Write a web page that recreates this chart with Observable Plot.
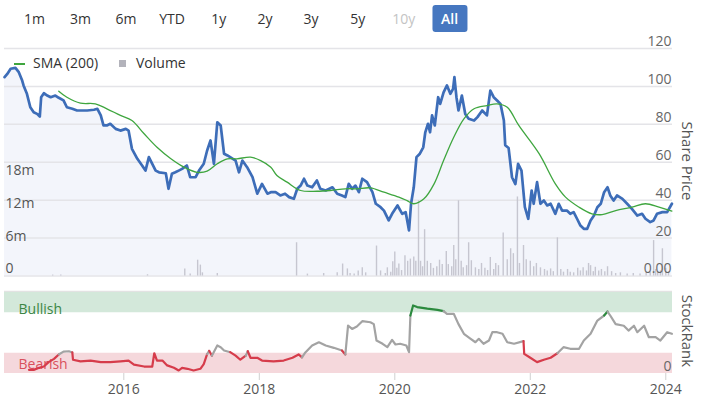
<!DOCTYPE html>
<html><head><meta charset="utf-8">
<script src="https://cdn.jsdelivr.net/npm/d3@7"></script>
<script src="https://cdn.jsdelivr.net/npm/@observablehq/plot@0.6"></script>
<style>
body{margin:0;background:#fff;font-family:"Open Sans",sans-serif;}
#wrap{position:relative;width:711px;height:397px;overflow:hidden;background:#fff}
.btn{position:absolute;top:5px;height:27px;line-height:27px;font-size:14px;color:#333;transform:translateX(-50%);white-space:nowrap;z-index:2}
.btn.active{background:#4677c0;color:#fff;border-radius:3px;padding:0 9px;font-weight:600}
.btn.off{color:#c4c4c4}
.abs{position:absolute}
.leg{position:absolute;font-size:14px;color:#333;line-height:20px;top:53px;white-space:nowrap}
.rot{position:absolute;font-size:15px;color:#555;white-space:nowrap;transform:translate(-50%,-50%) rotate(90deg)}
#main{position:absolute;left:0;top:30px}
#rank{position:absolute;left:0;top:280px}
</style></head>
<body><div id="wrap">
<div id="main"></div>
<div id="rank"></div>
<div id="btns"></div>
<div class="abs" style="left:14px;top:63px;width:11px;height:1.5px;background:#3fa63f"></div>
<div class="leg" style="left:33px">SMA (200)</div>
<div class="abs" style="left:119px;top:60px;width:7px;height:7px;background:#b3b3bb"></div>
<div class="leg" style="left:136px">Volume</div>
<div class="rot" style="left:688px;top:161px">Share Price</div>
<div class="rot" style="left:688px;top:331px">StockRank</div>
</div>
<script>
// ---- range buttons ----
const rangeLabels = ["1m","3m","6m","YTD","1y","2y","3y","5y","10y","All"];
const rangeCenters = [34.5,80.5,126,172,218.7,265,311,357.7,403.7,449.5];
const rangeState = ["","","","","","","","","off","active"];

// ---- share price (decimal year, price) ----
const priceYears = [2014.24,2014.28,2014.33,2014.40,2014.45,2014.50,2014.52,2014.57,2014.62,2014.67,2014.72,2014.76,2014.78,2014.82,2014.87,2014.92,2014.99,2015.04,2015.11,2015.16,2015.24,2015.31,2015.46,2015.56,2015.61,2015.66,2015.70,2015.75,2015.80,2015.88,2015.95,2016.03,2016.07,2016.12,2016.20,2016.27,2016.32,2016.37,2016.42,2016.47,2016.52,2016.62,2016.66,2016.71,2016.76,2016.81,2016.86,2016.93,2016.98,2017.06,2017.11,2017.18,2017.23,2017.28,2017.33,2017.38,2017.43,2017.48,2017.53,2017.57,2017.65,2017.70,2017.75,2017.82,2017.90,2017.97,2018.04,2018.12,2018.17,2018.24,2018.31,2018.38,2018.44,2018.51,2018.56,2018.61,2018.66,2018.71,2018.78,2018.85,2018.90,2018.98,2019.08,2019.15,2019.22,2019.27,2019.32,2019.37,2019.42,2019.47,2019.52,2019.59,2019.67,2019.72,2019.79,2019.84,2019.91,2019.96,2020.04,2020.11,2020.16,2020.21,2020.24,2020.28,2020.32,2020.37,2020.42,2020.45,2020.49,2020.52,2020.55,2020.59,2020.64,2020.67,2020.72,2020.77,2020.82,2020.86,2020.88,2020.91,2020.94,2020.99,2021.04,2021.09,2021.17,2021.22,2021.29,2021.36,2021.41,2021.46,2021.51,2021.56,2021.61,2021.63,2021.68,2021.73,2021.78,2021.82,2021.87,2021.92,2021.97,2022.02,2022.05,2022.10,2022.15,2022.20,2022.25,2022.30,2022.37,2022.42,2022.47,2022.54,2022.59,2022.64,2022.69,2022.74,2022.79,2022.84,2022.89,2022.94,2022.99,2023.04,2023.09,2023.14,2023.18,2023.23,2023.28,2023.36,2023.43,2023.50,2023.58,2023.65,2023.70,2023.77,2023.82,2023.87,2023.95,2024.02,2024.09];
const priceValues = [104.9,106.6,109.3,109.8,107.5,103.1,100.5,96.1,89,86.4,85.5,84.1,94.3,96.4,95.2,94.3,95.2,94,92.6,89,88.2,87.3,87.3,87.7,88.2,84.7,79.4,79.4,80.3,77.6,76.7,77.6,76.7,67.1,61.8,58.3,55.6,62.7,59.2,55.6,54.7,54.2,46,53.9,54.7,55.6,56.5,58.3,52.1,52.1,55.6,59.2,66.2,71.5,59.2,81.1,79.4,64.5,63.6,62.7,60.9,54.7,60.9,57.4,52.1,43.4,48.6,43.4,44.2,44.2,42.5,43.4,41.6,40.7,46,47.7,51.3,47.7,46.8,50.4,46,45.1,46.8,43.4,42.5,41.6,48.6,46,47.7,44.2,51.3,49.5,44.2,38.1,36.3,34.5,29.3,32.8,37.2,32.8,33.7,24,38.1,46.8,62.7,64.5,67.9,75.8,80.3,75.8,84.7,79.4,94.3,90.8,96.9,100.5,96.1,98.7,104.9,94.3,87.3,95.2,85.5,82.9,82,83.8,87.3,84.7,97.8,94.3,92.6,90.8,82,69,67.5,52.1,48.5,59.2,55.6,36.3,30.2,45.1,38.1,49.5,38.1,39.8,37.2,38.1,32.8,38.1,34.5,34.5,32.8,33.7,30.2,26.6,24.9,24.9,29.3,31.9,36.3,38.1,44.2,46.8,42.5,39.8,42.5,40.7,38.1,35.4,31.9,32.8,30.2,28.4,29.3,32.8,33.7,33.7,38.1];

// ---- SMA (200) ----
const smaYears = [2015.04,2015.16,2015.36,2015.58,2015.75,2015.95,2016.12,2016.30,2016.49,2016.69,2016.89,2017.08,2017.23,2017.38,2017.53,2017.67,2017.87,2018.02,2018.17,2018.26,2018.41,2018.61,2018.85,2019.05,2019.27,2019.44,2019.64,2019.84,2020.06,2020.18,2020.28,2020.43,2020.58,2020.72,2020.87,2021.02,2021.17,2021.36,2021.51,2021.66,2021.83,2022.13,2022.37,2022.52,2022.72,2022.91,2023.06,2023.26,2023.50,2023.70,2023.90,2024.09];
const smaValues = [97.5,94.3,91.2,90.8,88.2,84.7,82,75,67.9,62,57.4,54.7,55.3,59.2,61.8,61.8,62.7,60.9,57.4,53,49.5,45.1,44.7,45.1,46,46,46.5,44.2,41.6,39.8,38.1,40.7,48.6,60.9,73.2,82.9,88.2,89.9,90.8,89,79.4,64.5,48.6,41.6,36.3,32.8,32.4,34.5,36.3,38.1,36.3,34.2];

// ---- volume (millions) ----
const volYears = [2014.95,2015.07,2016.35,2016.90,2016.98,2017.09,2017.13,2017.16,2017.38,2018.55,2018.71,2018.95,2019.15,2019.23,2019.30,2019.34,2019.40,2019.46,2019.52,2019.57,2019.73,2019.79,2019.86,2019.89,2019.94,2019.97,2020.00,2020.03,2020.06,2020.10,2020.15,2020.19,2020.23,2020.28,2020.31,2020.35,2020.38,2020.41,2020.44,2020.48,2020.53,2020.57,2020.62,2020.66,2020.70,2020.76,2020.79,2020.84,2020.87,2020.90,2020.94,2020.98,2021.01,2021.06,2021.09,2021.13,2021.19,2021.24,2021.28,2021.33,2021.37,2021.41,2021.46,2021.49,2021.53,2021.60,2021.66,2021.71,2021.75,2021.81,2021.84,2021.90,2021.94,2022.00,2022.05,2022.09,2022.15,2022.21,2022.25,2022.30,2022.34,2022.40,2022.45,2022.49,2022.55,2022.59,2022.64,2022.70,2022.74,2022.78,2022.83,2022.86,2022.89,2022.93,2022.96,2023.01,2023.05,2023.10,2023.14,2023.20,2023.26,2023.33,2023.43,2023.52,2023.62,2023.71,2023.77,2023.82,2023.85,2023.88,2023.92,2023.95,2024.00,2024.04];
const volValues = [0.17,0.17,0.23,1.3,0.35,2.9,2.0,0.58,0.46,6.1,0.35,0.46,0.58,2.2,1.3,0.46,0.35,0.93,1.5,0.58,5.5,0.93,0.46,1.5,0.7,2.6,4.4,1.4,2.2,1.0,3.7,2.7,3.1,3.5,2.7,13.8,2.7,1.7,8.5,2.7,2.3,1.4,1.7,2.9,2.1,4.5,2.1,1.7,5.6,3.0,13.8,2.7,1.5,1.9,6.1,2.8,1.5,1.2,2.3,1.4,1.0,3.4,1.2,2.3,1.9,7.9,3.0,5.0,4.1,14.5,2.3,5.6,3.0,2.7,1.7,2.3,1.5,1.2,0.93,1.3,0.8,7.0,1.2,0.7,1.2,0.7,0.58,1.4,0.93,1.5,0.93,2.3,1.9,0.8,1.6,0.93,1.2,0.8,1.7,0.8,0.46,0.58,0.35,0.46,0.35,0.58,0.7,6.5,1.2,0.7,0.93,5.0,1.4,0.7];

// ---- StockRank ----
const rankYears = [2014.60,2014.67,2014.75,2014.82,2014.89,2014.97,2015.04,2015.11,2015.19,2015.24,2015.25,2015.36,2015.51,2015.66,2015.80,2015.95,2016.07,2016.15,2016.30,2016.42,2016.45,2016.49,2016.57,2016.64,2016.74,2016.81,2016.86,2016.94,2017.03,2017.13,2017.18,2017.23,2017.26,2017.30,2017.38,2017.43,2017.48,2017.57,2017.65,2017.72,2017.80,2017.83,2017.87,2017.97,2018.04,2018.21,2018.36,2018.49,2018.58,2018.63,2018.68,2018.78,2018.88,2018.98,2019.10,2019.22,2019.27,2019.31,2019.37,2019.44,2019.52,2019.64,2019.69,2019.73,2019.82,2019.89,2019.96,2020.01,2020.08,2020.17,2020.21,2020.23,2020.27,2020.33,2020.48,2020.63,2020.72,2020.77,2020.87,2020.94,2021.02,2021.12,2021.19,2021.24,2021.31,2021.39,2021.44,2021.51,2021.59,2021.66,2021.76,2021.90,2021.91,2022.00,2022.10,2022.20,2022.30,2022.40,2022.49,2022.59,2022.72,2022.79,2022.89,2022.99,2023.09,2023.14,2023.18,2023.26,2023.38,2023.45,2023.53,2023.58,2023.68,2023.75,2023.85,2023.92,2024.02,2024.09];
const rankValues = [4.5,4.5,7,8.6,14,18,23.5,27,27.5,26,17,15,16,14,14,15,16,11,8.6,8.6,25,16,16,10,7,3.7,7,5.8,3.7,5.8,11.5,24,28,22,34.6,32.5,28.4,26.3,22,17,22,27.5,19.4,19.4,16,15,16,19.4,23.5,20,26,34.6,38.6,34.6,31.7,28.4,23.5,59,55,58,64.6,63.3,61,40.7,36.7,32.5,41.6,35.8,36.7,34.6,26.3,71.6,84,82,80,78.6,77,73.7,73.7,61,49,42.8,38.6,42.8,36.7,40.7,51,51,49,38.6,36.7,40,24.3,19.4,14,17,19.4,25,32.5,30.5,30.5,40.7,49,65.4,71.6,76.5,71.6,61,59,53,59,51,59,44.8,44.8,40.7,51,49];

const priceTicks = [0,20,40,60,80,100,120];
const volTicks = [0,6,12,18];          // millions
const yearTicks = [2016,2018,2020,2022,2024];
const xDomain = [2014.239, 2024.099];
const VOL_TO_PRICE = 2.875;            // 1m shares drawn as 2.875 price units (volume axis scale)
const BULL = 75, BEAR = 25;

// buttons
const btns = document.getElementById("btns");
rangeLabels.forEach((t,i)=>{
  const s = document.createElement("div");
  s.className = "btn " + rangeState[i];
  s.style.left = rangeCenters[i] + "px";
  s.textContent = t;
  btns.appendChild(s);
});

const price = priceYears.map((x,i)=>({x, y: priceValues[i]}));
const sma = smaYears.map((x,i)=>({x, y: smaValues[i]}));
const vol = volYears.map((x,i)=>({x, v: volValues[i]}));

const font = {fontFamily:"Open Sans, sans-serif", fontSize:"14px", background:"transparent", overflow:"hidden"};

const main = Plot.plot({
  width: 711, height: 250,
  marginTop: 18, marginBottom: 4.5, marginLeft: 4, marginRight: 39,
  style: font,
  x: {domain: xDomain, axis: null},
  y: {domain: [0,120], axis: null},
  marks: [
    Plot.areaY(price, {x:"x", y:"y", fill:"#f3f5fb"}),
    Plot.ruleY(priceTicks, {stroke:"#e4e4e8", strokeWidth:1.5}),
    Plot.ruleX(vol, {x:"x", y1:0, y2: d => d.v*VOL_TO_PRICE, stroke:"#c6c6d0", strokeWidth:1.4}),
    Plot.line(price, {x:"x", y:"y", stroke:"#3d6db8", strokeWidth:2.7, strokeLinejoin:"round"}),
    Plot.line(sma, {x:"x", y:"y", stroke:"#3fa63f", strokeWidth:1.3, curve:"catmull-rom"}),
    Plot.text(priceTicks, {y: d=>d, text: d => d===0 ? "0.00" : String(d), frameAnchor:"right", textAnchor:"end", dx:-1, dy:-7, fill:"#666", fontSize:14}),
    Plot.text(volTicks, {y: d=>d*VOL_TO_PRICE, text: d => d===0 ? "0" : d+"m", frameAnchor:"left", textAnchor:"start", dx:1, dy:-7, fill:"#555", fontSize:14})
  ]
});
document.getElementById("main").appendChild(main);

// StockRank segments coloured by zone
const cls = v => v >= BULL ? "bull" : v <= BEAR ? "bear" : "mid";
const rankColor = {bull:"#2b8a3e", bear:"#d63c4b", mid:"#a3a3a3"};
const segs = []; let sid = 0;
rankYears.forEach((x,i)=>{
  const c = cls(rankValues[i]);
  if (i>0 && c !== cls(rankValues[i-1])) { sid++; segs.push({x: rankYears[i-1], y: rankValues[i-1], id: sid, c}); }
  segs.push({x, y: rankValues[i], id: sid, c});
});

const rank = Plot.plot({
  width: 711, height: 117,
  marginTop: 12, marginBottom: 24, marginLeft: 4, marginRight: 39,
  style: font,
  x: {domain: xDomain, label: null},
  y: {domain: [0,100], axis: null},
  color: {type: "identity"},
  marks: [
    Plot.ruleY([100], {stroke:"#e2e2e2", strokeWidth:1.5, dy:-1}),
    Plot.rect([BULL], {x1: xDomain[0], x2: xDomain[1], y1: d=>d, y2: 100, fill:"#d3e8da"}),
    Plot.rect([BEAR], {x1: xDomain[0], x2: xDomain[1], y1: 0, y2: d=>d, fill:"#f5d8dc"}),
    Plot.text(["Bullish"], {frameAnchor:"top-left", text: d=>d, textAnchor:"start", dx:14, dy:12, fill:"#3b8645", fontSize:14}),
    Plot.text(["Bearish"], {frameAnchor:"bottom-left", text: d=>d, textAnchor:"start", dx:14, dy:-5, fill:"#d9505c", fontSize:14}),
    Plot.line(segs, {x:"x", y:"y", z:"id", stroke: d => rankColor[d.c], strokeWidth:2.2, strokeLinejoin:"round"}),
    Plot.text([0], {y: d=>d, text: d=>String(d), frameAnchor:"right", textAnchor:"end", dx:-1, dy:-7, fill:"#666", fontSize:14}),
    Plot.axisX({ticks: yearTicks, tickFormat: d => String(d), tickSize: 7, tickPadding: 4, stroke:"#d0d0d0", fill:"#555", fontSize:14, label: null})
  ]
});
document.getElementById("rank").appendChild(rank);
</script>
</body></html>
